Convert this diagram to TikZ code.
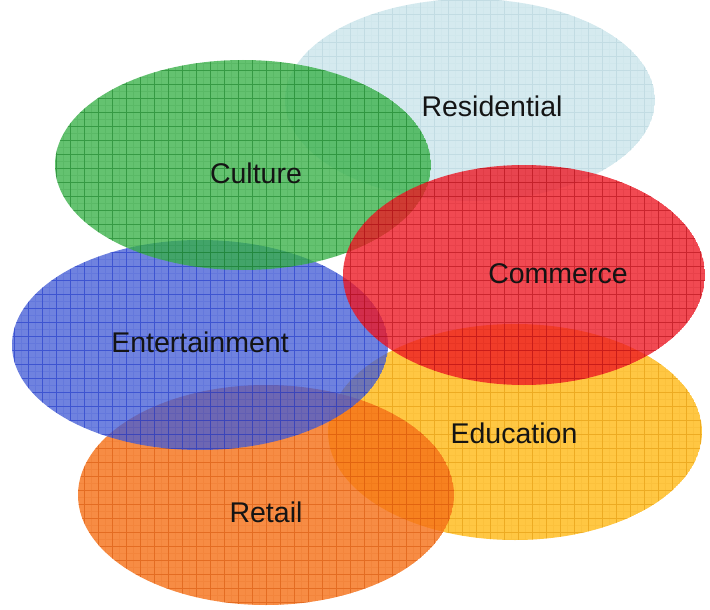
\documentclass[tikz,border=0pt]{standalone}
\usepackage{fontspec}
\setmainfont{Liberation Sans}
\begin{document}
% Overlapping urban-function sets, each a translucent hatched ellipse
\definecolor{resfill}{RGB}{213,234,239}
\definecolor{resgrid}{RGB}{180,212,220}
\definecolor{culfill}{RGB}{52,176,68}
\definecolor{culgrid}{RGB}{20,125,35}
\definecolor{comfill}{RGB}{238,22,34}
\definecolor{comgrid}{RGB}{175,10,20}
\definecolor{entfill}{RGB}{66,92,214}
\definecolor{entgrid}{RGB}{25,50,200}
\definecolor{edufill}{RGB}{255,186,20}
\definecolor{edugrid}{RGB}{225,150,10}
\definecolor{retfill}{RGB}{245,112,22}
\definecolor{retgrid}{RGB}{215,85,10}
\tikzset{
  setlabel/.style={anchor=base, inner sep=0pt, text=black!92,
    font=\fontsize{28.5}{30}\selectfont},
}
% #1,#2 centre; #3,#4 radii; #5 fill; #6 grid colour; #7 fill opacity
\newcommand\hatchedset[7]{%
  \begin{scope}
    \clip (#1,#2) ellipse [x radius=#3pt, y radius=#4pt];
    \fill[fill=#5, fill opacity=#7] (#1,#2) ellipse [x radius=#3pt, y radius=#4pt];
    \draw[#6, line width=0.6pt, opacity=0.5, step=14pt] (-2,-2) grid (712,612);
    \draw[#6, line width=0.25pt, opacity=0.12, step=7pt] (-2,-2) grid (712,612);
  \end{scope}}
\begin{tikzpicture}[x=1pt, y=-1pt]
  \useasboundingbox (0,0) rectangle (710,610);
  \fill[white] (0,0) rectangle (710,610);

  \hatchedset{470}{100}{185}{101}{resfill}{resgrid}{1}
  \hatchedset{515}{432}{187}{108}{edufill}{edugrid}{0.8}
  \hatchedset{266}{495}{188}{110}{retfill}{retgrid}{0.8}
  \hatchedset{200}{345}{188}{105}{entfill}{entgrid}{0.76}
  \hatchedset{243}{165}{188}{105}{culfill}{culgrid}{0.76}
  \hatchedset{524}{275}{181}{110}{comfill}{comgrid}{0.78}

  \node[setlabel] (residential) at (492,117) {Residential};
  \node[setlabel] (culture) at (256,183) {Culture};
  \node[setlabel] (commerce) at (558,283) {Commerce};
  \node[setlabel] (entertainment) at (200,352) {Entertainment};
  \node[setlabel] (education) at (514,443) {Education};
  \node[setlabel] (retail) at (266,522) {Retail};
\end{tikzpicture}
\end{document}
